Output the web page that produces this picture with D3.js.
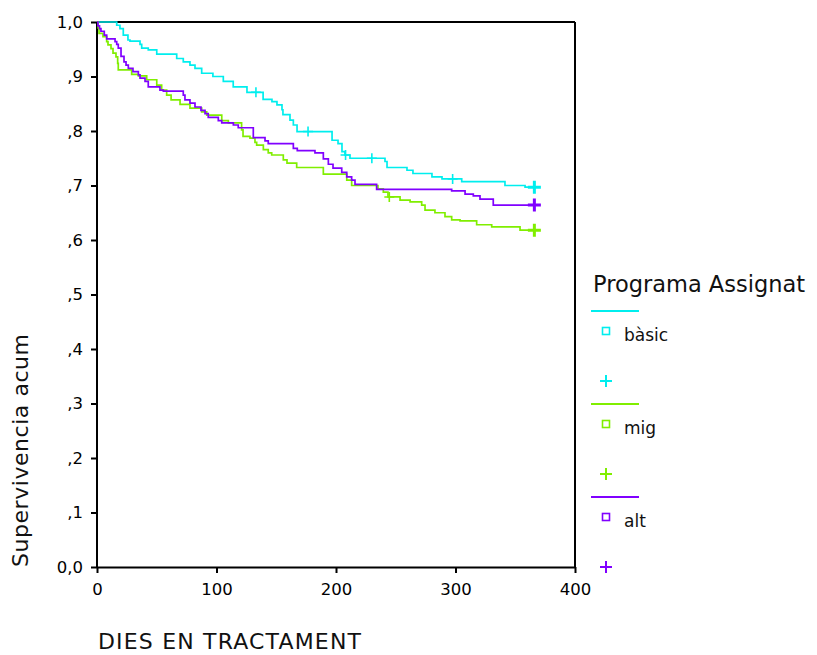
<!DOCTYPE html>
<html>
<head>
<meta charset="utf-8">
<script src="https://cdn.jsdelivr.net/npm/d3@7/dist/d3.min.js"></script>
<style>
  html, body { margin: 0; padding: 0; background: #fff; }
  svg { display: block; font-family: "DejaVu Sans", Verdana, sans-serif; }
</style>
</head>
<body>
<svg id="chart" width="817" height="655"></svg>
<script>
// Kaplan-Meier survival by assigned programme: step drop days and survival after each drop
const basicDays = [16.5, 19.2, 22, 25.9, 27.6, 36, 37.4, 42.9, 50, 66.7, 72.2, 77.8, 82, 87.6, 97, 105.7, 114, 125.5, 139, 146.4,
  150.6, 154.8, 155.6, 161.5, 164.3, 167.4, 196.7, 201.7, 205, 207.5, 211.7, 241, 242.7, 259.4, 264.4, 280.3, 288.7, 305.2, 341.4, 358.2];
const basicSurv = [.994, .988, .976, .967, .965, .959, .952, .949, .941, .933, .927, .921, .915, .906, .900, .891, .881, .871, .858, .854,
  .848, .839, .830, .820, .811, .799, .783, .777, .762, .756, .750, .744, .733, .728, .722, .716, .712, .707, .700, .697];
const basicCensored = [133, 176.6, 208, 230, 297.6];

const migDays = [1, 1.7, 5, 8.1, 9.2, 11.7, 13.4, 15.9, 17.3, 17.8, 29, 34.6, 41.6, 50, 54.1, 58.3, 62, 69.5, 77.8, 87.6,
  91.8, 104.4, 109.9, 121, 122.2, 128, 132.2, 133.6, 139.2, 143.3, 146.2, 155.9, 159, 167.1, 189.4, 209, 213.1, 235.1, 239.6, 243.5,
  253.6, 262, 271.7, 274.5, 282.8, 291.2, 296.8, 303.8, 317.7, 330.3, 354];
const migSurv = [.989, .979, .973, .964, .958, .951, .943, .936, .924, .912, .904, .901, .894, .884, .875, .866, .857, .849, .842, .835,
  .829, .819, .815, .802, .790, .787, .779, .774, .766, .760, .756, .747, .741, .733, .721, .710, .700, .694, .688, .679,
  .673, .670, .664, .655, .650, .643, .637, .635, .628, .624, .618];
const migCensored = [244.6];

const altDays = [0.8, 2.1, 3.3, 6.1, 8.1, 15.1, 16.5, 17.8, 20.1, 22.6, 24.3, 26.2, 30.1, 34.6, 36, 40.2, 42.9, 52.7, 55.5, 72.2,
  73.6, 77.8, 82, 87, 90.4, 93.1, 101.5, 104.4, 114.1, 118.2, 130.8, 140.6, 143.3, 164.3, 167.6, 182.4, 189.4, 193.6, 197.5, 204.8,
  209, 213.1, 215.9, 234, 296.8, 308, 314.9, 320.5, 331.6];
const altSurv = [.993, .988, .983, .976, .969, .964, .959, .952, .937, .927, .921, .915, .909, .903, .897, .891, .881, .875, .873, .866,
  .857, .851, .844, .838, .832, .825, .819, .815, .811, .806, .788, .782, .777, .768, .764, .760, .749, .739, .732, .724,
  .716, .710, .702, .693, .690, .684, .681, .675, .664];
const altCensored = [];

const lastDay = 366;
const groupNames = ["bàsic", "mig", "alt"];
const groupColors = ["#00EEEE", "#80EE00", "#8000FF"];

const xTicks = [0, 100, 200, 300, 400];
const yTicks = [0, .1, .2, .3, .4, .5, .6, .7, .8, .9, 1];
const yTickLabels = ["0,0", ",1", ",2", ",3", ",4", ",5", ",6", ",7", ",8", ",9", "1,0"];

const xTitle = "DIES EN TRACTAMENT";
const yTitle = "Supervivencia acum";
const legendTitle = "Programa Assignat";

const series = [
  { name: groupNames[0], color: groupColors[0], days: basicDays, surv: basicSurv, censored: basicCensored },
  { name: groupNames[1], color: groupColors[1], days: migDays, surv: migSurv, censored: migCensored },
  { name: groupNames[2], color: groupColors[2], days: altDays, surv: altSurv, censored: altCensored }
];

const svg = d3.select("#chart");
const x = d3.scaleLinear().domain([0, 400]).range([97, 575]);
const y = d3.scaleLinear().domain([0, 1]).range([567, 22]);

// survival value of a series at a given day (step function)
function survAt(s, day) {
  let v = 1;
  for (let i = 0; i < s.days.length; i++) if (s.days[i] <= day) v = s.surv[i];
  return v;
}

// frame: top and right borders
svg.append("line").attr("x1", x(0)).attr("x2", x(400)).attr("y1", y(1)).attr("y2", y(1))
  .attr("stroke", "#000").attr("stroke-width", 2);
svg.append("line").attr("x1", x(400)).attr("x2", x(400)).attr("y1", y(1)).attr("y2", y(0))
  .attr("stroke", "#000").attr("stroke-width", 2);

// axes
const yAxis = svg.append("g").attr("transform", `translate(${x(0)},0)`)
  .call(d3.axisLeft(y).tickValues(yTicks).tickFormat((d, i) => yTickLabels[i]).tickSize(6).tickSizeOuter(0).tickPadding(8));
const xAxis = svg.append("g").attr("transform", `translate(0,${y(0)})`)
  .call(d3.axisBottom(x).tickValues(xTicks).tickFormat(d3.format("d")).tickSize(6).tickSizeOuter(0).tickPadding(10));
[yAxis, xAxis].forEach(a => {
  a.select(".domain").attr("stroke", "#000").attr("stroke-width", 2);
  a.selectAll(".tick line").attr("stroke", "#000").attr("stroke-width", 2);
  a.selectAll(".tick text").attr("fill", "#000").style("font-size", "16.5px")
    .style("font-family", "'DejaVu Sans', Verdana, sans-serif");
});
yAxis.select(".domain").attr("d", `M0,${y(1)}V${y(0)}`);

// axis titles
svg.append("text").attr("transform", `translate(28,${y(0)}) rotate(-90)`)
  .attr("text-anchor", "start").style("font-size", "22px").attr("fill", "#111")
  .attr("textLength", 233).attr("lengthAdjust", "spacing").text(yTitle);
svg.append("text").attr("x", 98).attr("y", 649)
  .attr("text-anchor", "start").style("font-size", "22px").attr("fill", "#111")
  .attr("textLength", 263).attr("lengthAdjust", "spacing").text(xTitle);

// survival curves
const line = d3.line().x(d => x(d[0])).y(d => y(d[1])).curve(d3.curveStepAfter);
series.forEach(s => {
  const pts = [[0, 1]].concat(s.days.map((d, i) => [d, s.surv[i]]));
  pts.push([lastDay, s.surv[s.surv.length - 1]]);
  svg.append("path").datum(pts).attr("d", line)
    .attr("fill", "none").attr("stroke", s.color).attr("stroke-width", 1.7);
});

// censoring marks
function plus(g, cx, cy, r, w, color) {
  g.append("path").attr("d", `M${cx - r},${cy}H${cx + r}M${cx},${cy - r}V${cy + r}`)
    .attr("stroke", color).attr("stroke-width", w).attr("fill", "none");
}
series.forEach(s => {
  s.censored.forEach(d => plus(svg, x(d), y(survAt(s, d)), 5, 1.6, s.color));
  plus(svg, x(lastDay), y(survAt(s, lastDay)), 6.5, 3, s.color);
});

// legend
const legend = svg.append("g");
legend.append("text").attr("x", 593).attr("y", 292).style("font-size", "22.5px").attr("fill", "#111").text(legendTitle);
series.forEach((s, i) => {
  const top = 311 + i * 93;
  legend.append("line").attr("x1", 591).attr("x2", 639).attr("y1", top).attr("y2", top)
    .attr("stroke", s.color).attr("stroke-width", 2);
  legend.append("rect").attr("x", 602.5).attr("y", top + 16.5).attr("width", 7).attr("height", 7)
    .attr("fill", "#fff").attr("stroke", s.color).attr("stroke-width", 1.6);
  legend.append("text").attr("x", 624).attr("y", top + 30).style("font-size", "17px").attr("fill", "#111").text(s.name);
  plus(legend, 606, top + 70, 6, 2, s.color);
});
</script>
</body>
</html>
